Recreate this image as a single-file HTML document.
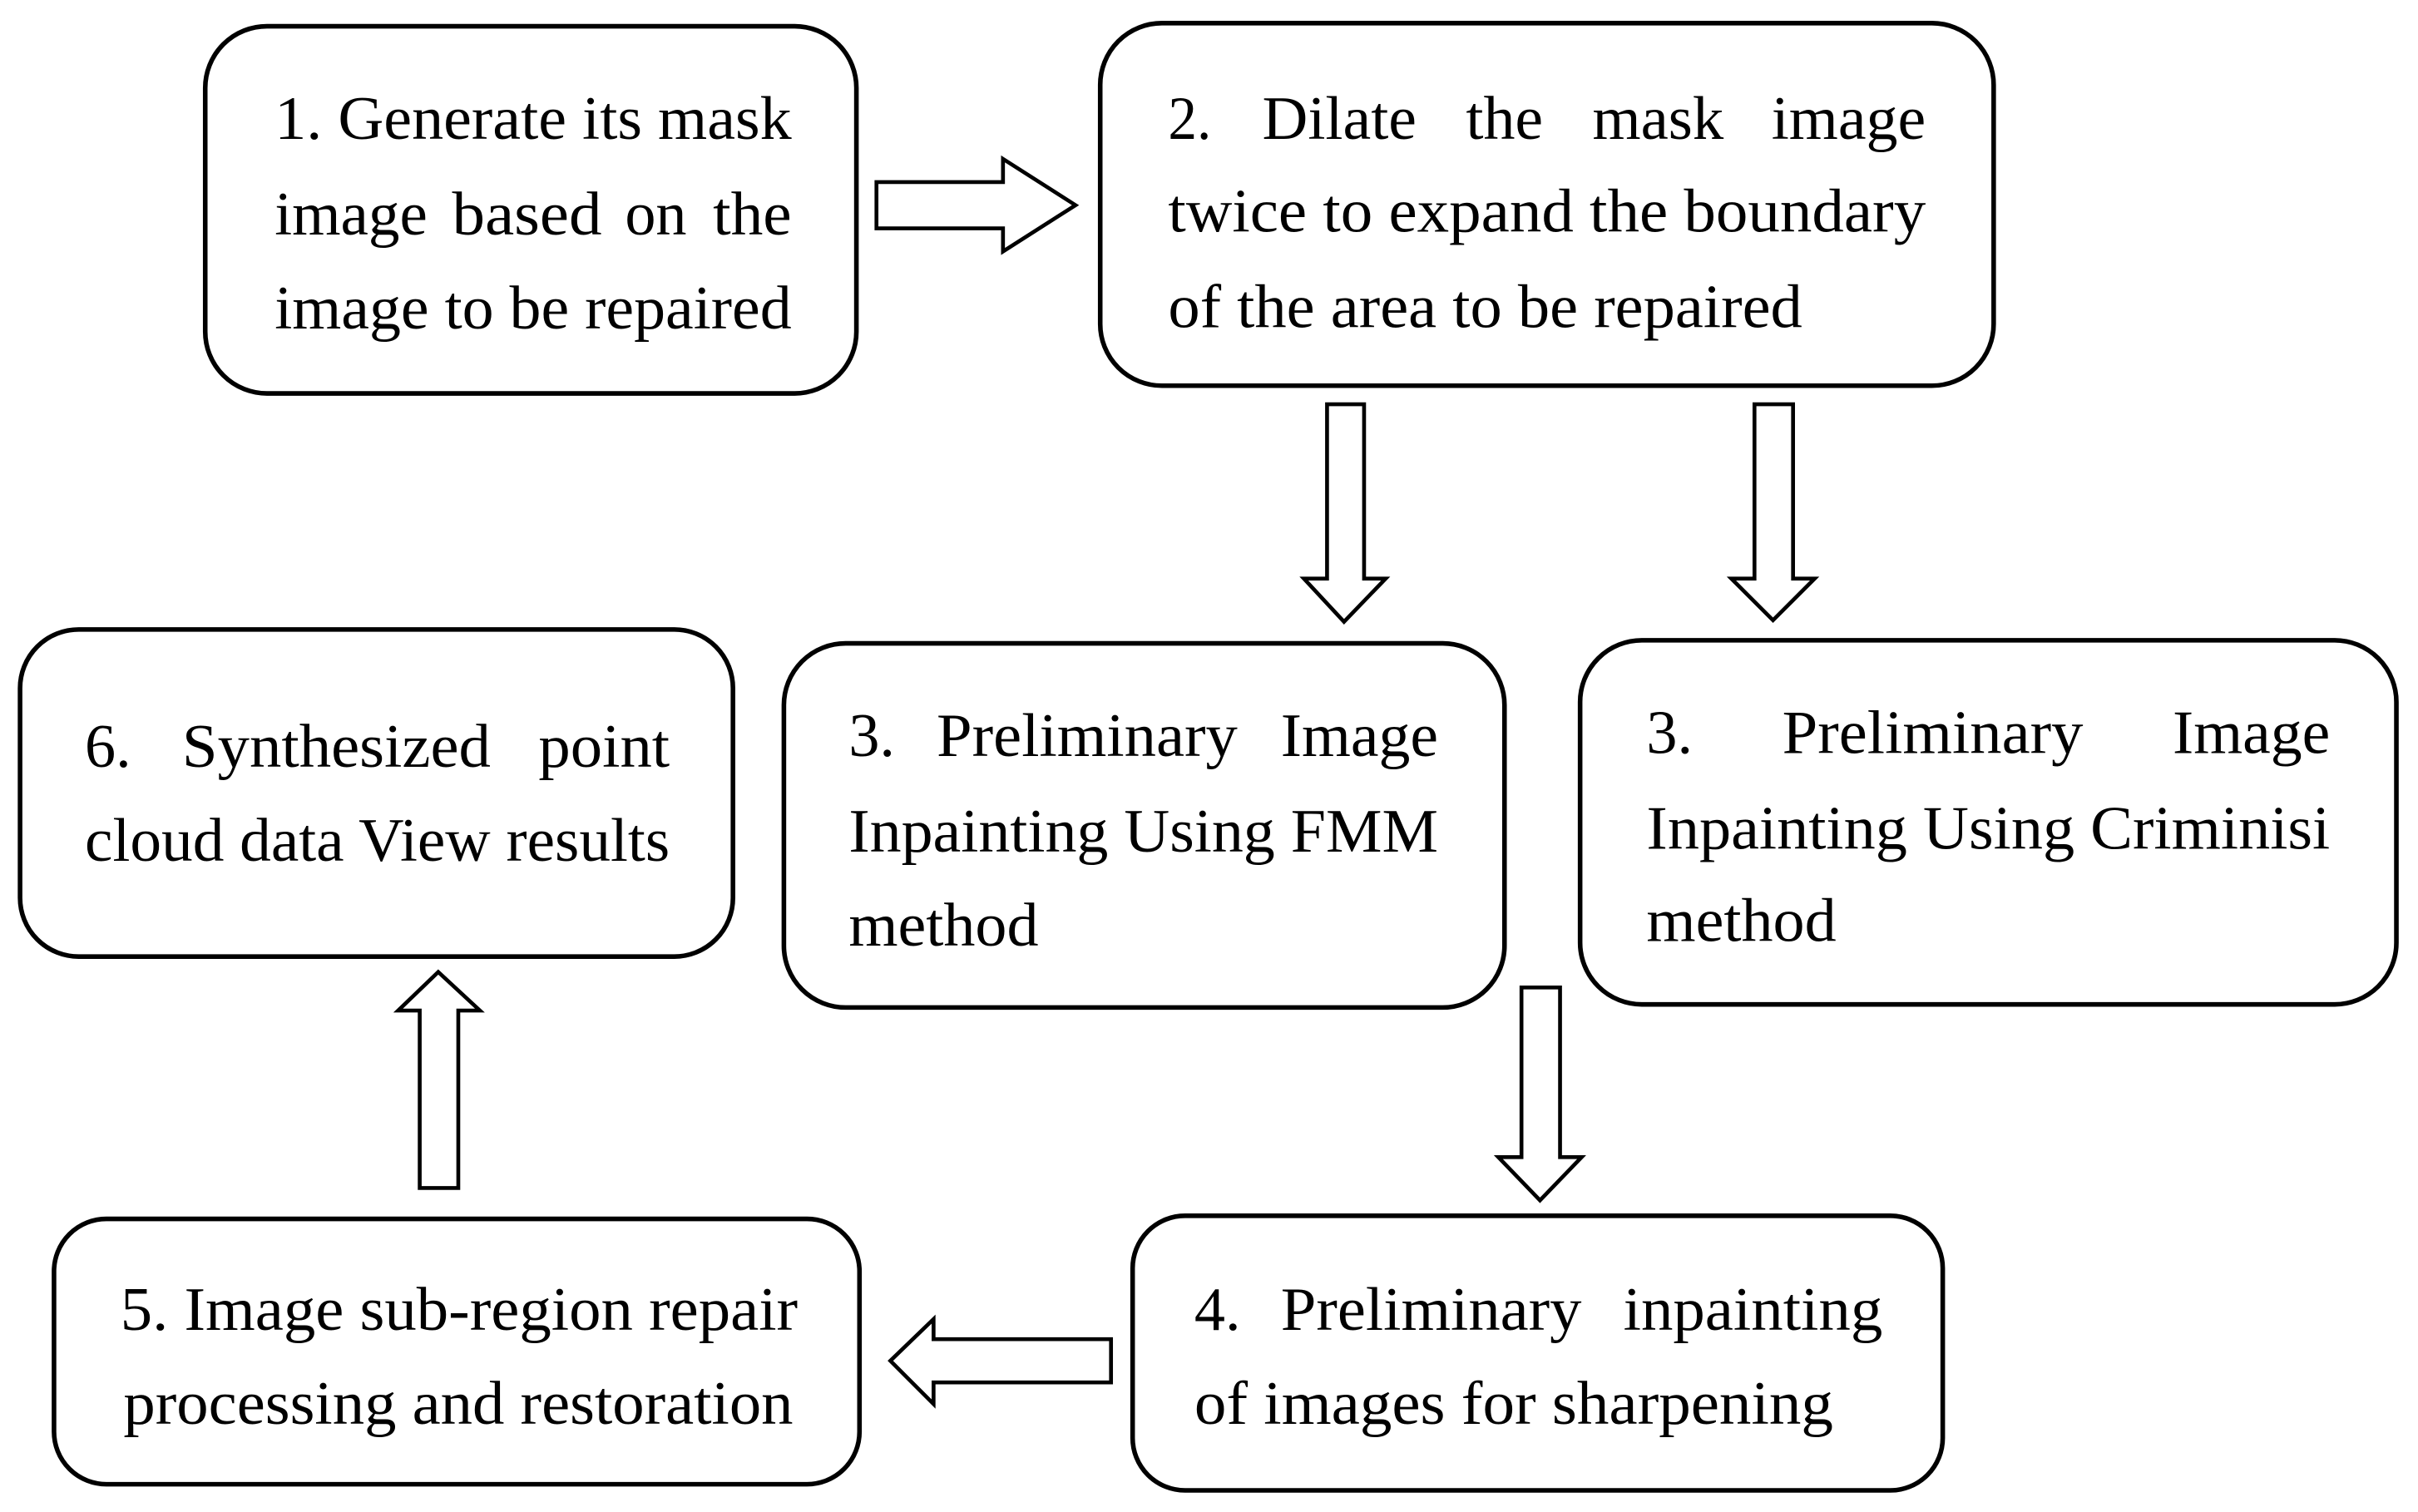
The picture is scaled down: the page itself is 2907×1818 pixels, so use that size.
<!DOCTYPE html>
<html><head><meta charset="utf-8"><style>
html,body{margin:0;padding:0;background:#fff;}
svg{display:block;}
text{font-family:"Liberation Serif",serif;font-size:40px;fill:#000;}
</style></head><body>
<svg width="2907" height="1818" viewBox="0 0 1567 980" preserveAspectRatio="none" xmlns="http://www.w3.org/2000/svg">
<g fill="#fff" stroke="#000" stroke-width="3">
<rect x="133" y="17" width="422" height="238" rx="40"/>
<rect x="713" y="15" width="579" height="235" rx="40"/>
<rect x="13" y="408" width="462" height="212" rx="38"/>
<rect x="508" y="417" width="467" height="236" rx="40"/>
<rect x="1024" y="415" width="529" height="236" rx="40"/>
<rect x="35" y="790" width="522" height="172" rx="34"/>
<rect x="734" y="788" width="525" height="178" rx="34"/>
</g>
<g fill="#fff" stroke="#000" stroke-width="2.5" stroke-linejoin="miter">
<polygon points="568,118 650,118 650,103 697,133 650,163 650,148 568,148"/>
<polygon points="860,262 884,262 884,375 898,375 871,403 845,375 860,375"/>
<polygon points="1137,262 1162,262 1162,375 1176,375 1149,402 1122,375 1137,375"/>
<polygon points="986,640 1011,640 1011,750 1025,750 998,778 971,750 986,750"/>
<polygon points="272,770 297,770 297,655 311,655 284,630 258,655 272,655"/>
<polygon points="720,868 605,868 605,855 577,882 605,910 605,896 720,896"/>
</g>
<g lengthAdjust="spacingAndGlyphs">
<text x="178" y="90" textLength="335" lengthAdjust="spacingAndGlyphs">1. Generate its mask</text>
<text x="178" y="152" textLength="99" lengthAdjust="spacingAndGlyphs">image</text>
<text x="293" y="152" textLength="97" lengthAdjust="spacingAndGlyphs">based</text>
<text x="405" y="152" textLength="40" lengthAdjust="spacingAndGlyphs">on</text>
<text x="462" y="152" textLength="51" lengthAdjust="spacingAndGlyphs">the</text>
<text x="178" y="213" textLength="335" lengthAdjust="spacingAndGlyphs">image to be repaired</text>

<text x="757" y="90" textLength="28" lengthAdjust="spacingAndGlyphs">2.</text>
<text x="818" y="90" textLength="100" lengthAdjust="spacingAndGlyphs">Dilate</text>
<text x="950" y="90" textLength="50" lengthAdjust="spacingAndGlyphs">the</text>
<text x="1032" y="90" textLength="85" lengthAdjust="spacingAndGlyphs">mask</text>
<text x="1148" y="90" textLength="100" lengthAdjust="spacingAndGlyphs">image</text>
<text x="757" y="150" textLength="491" lengthAdjust="spacingAndGlyphs">twice to expand the boundary</text>
<text x="757" y="212" textLength="411" lengthAdjust="spacingAndGlyphs">of the area to be repaired</text>

<text x="55" y="497" textLength="30" lengthAdjust="spacingAndGlyphs">6.</text>
<text x="118" y="497" textLength="200" lengthAdjust="spacingAndGlyphs">Synthesized</text>
<text x="349" y="497" textLength="85" lengthAdjust="spacingAndGlyphs">point</text>
<text x="55" y="558" textLength="379" lengthAdjust="spacingAndGlyphs">cloud data View results</text>

<text x="550" y="490" textLength="30" lengthAdjust="spacingAndGlyphs">3.</text>
<text x="607" y="490" textLength="195" lengthAdjust="spacingAndGlyphs">Preliminary</text>
<text x="830" y="490" textLength="102" lengthAdjust="spacingAndGlyphs">Image</text>
<text x="550" y="552" textLength="382" lengthAdjust="spacingAndGlyphs">Inpainting Using FMM</text>
<text x="550" y="613" textLength="123" lengthAdjust="spacingAndGlyphs">method</text>

<text x="1067" y="488" textLength="30" lengthAdjust="spacingAndGlyphs">3.</text>
<text x="1155" y="488" textLength="195" lengthAdjust="spacingAndGlyphs">Preliminary</text>
<text x="1408" y="488" textLength="102" lengthAdjust="spacingAndGlyphs">Image</text>
<text x="1067" y="550" textLength="443" lengthAdjust="spacingAndGlyphs">Inpainting Using Criminisi</text>
<text x="1067" y="610" textLength="123" lengthAdjust="spacingAndGlyphs">method</text>

<text x="78" y="862" textLength="439" lengthAdjust="spacingAndGlyphs">5. Image sub-region repair</text>
<text x="80" y="923" textLength="434" lengthAdjust="spacingAndGlyphs">processing and restoration</text>

<text x="774" y="862" textLength="30" lengthAdjust="spacingAndGlyphs">4.</text>
<text x="830" y="862" textLength="195" lengthAdjust="spacingAndGlyphs">Preliminary</text>
<text x="1052" y="862" textLength="168" lengthAdjust="spacingAndGlyphs">inpainting</text>
<text x="774" y="923" textLength="414" lengthAdjust="spacingAndGlyphs">of images for sharpening</text>
</g>
</svg>
</body></html>
